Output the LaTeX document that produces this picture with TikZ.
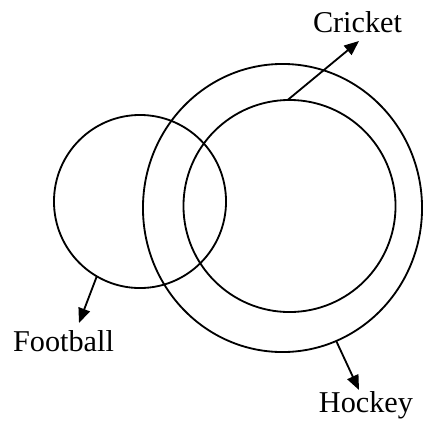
\documentclass[tikz,border=0pt]{standalone}
\usepackage{fontspec}
\setmainfont{Liberation Serif}
\usetikzlibrary{arrows.meta,shapes.geometric}
\begin{document}
\begin{tikzpicture}[x=0.025cm,y=-0.025cm,>={Triangle[length=10.5pt,width=8.5pt]},line width=1.3pt,
  font=\fontsize{21.5}{26}\selectfont,
  ring/.style={ellipse,draw,inner sep=0pt,outer sep=0pt},
  lbl/.style={anchor=base,inner sep=0pt}]
 \useasboundingbox (0,0) rectangle (425,421);
 \node[ring,minimum width=4.3cm,minimum height=4.325cm] (football) at (140,201.5) {};
 \node[ring,minimum width=6.975cm,minimum height=7.2cm] (hockey) at (282.5,208) {};
 \node[ring,minimum width=5.3cm,minimum height=5.3cm] (cricket) at (289.5,206) {};
 \node[lbl] (cricketlbl) at (357.5,32) {Cricket};
 \node[lbl] (footballlbl) at (63.5,351) {Football};
 \node[lbl] (hockeylbl) at (366,412) {Hockey};
 \coordinate (crickettip) at (359,41);
 \coordinate (footballtip) at (79,323);
 \coordinate (hockeytip) at (359,390);
 \draw[->] (cricket.91) -- (crickettip);
 \draw[->] (football.240) -- (footballtip);
 \draw[->] (hockey.292) -- (hockeytip);
\end{tikzpicture}
\end{document}
